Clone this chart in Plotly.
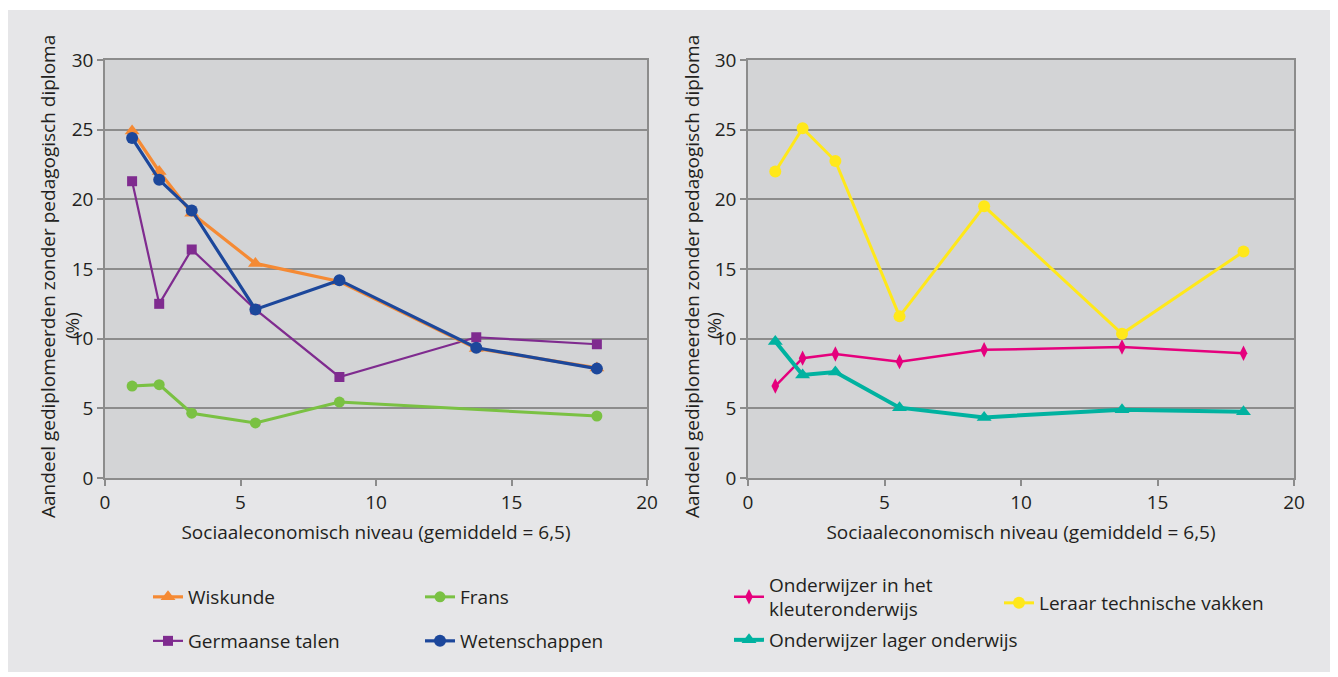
import plotly.graph_objects as go
from plotly.subplots import make_subplots

# Sociaaleconomisch niveau (x) - shared by all series
SES = [1.0, 2.0, 3.2, 5.55, 8.65, 13.7, 18.15]

# left panel
WISKUNDE = [24.9, 22.0, 19.0, 15.4, 14.1, 9.3, 7.9]
FRANS = [6.6, 6.7, 4.65, 3.95, 5.45, None, 4.45]
GERMAANSE = [21.3, 12.5, 16.4, 12.1, 7.25, 10.1, 9.6]
WETENSCHAPPEN = [24.4, 21.4, 19.2, 12.1, 14.2, 9.35, 7.85]

# right panel
KLEUTER = [6.6, 8.6, 8.9, 8.35, 9.2, 9.4, 8.95]
LAGER = [9.8, 7.4, 7.6, 5.05, 4.35, 4.9, 4.75]
TECHNISCH = [22.0, 25.1, 22.75, 11.6, 19.5, 10.35, 16.25]

X_TICKS = [0, 5, 10, 15, 20]
Y_TICKS = [0, 5, 10, 15, 20, 25, 30]

FONT = "Open Sans"
FS = 19
TXT = "#231f20"
PANEL_BG = "#e6e6e8"
PLOT_BG = "#d3d4d6"
GRID = "#8c8c8c"

# the page body adds an 8px margin; work in screenshot pixels and shift
OFF = 8
W, H = 1338 - OFF, 672 - OFF
L, R, T, B = 105 - OFF, 1338 - 1294, 60 - OFF, 672 - 478
PW = W - L - R
PH = H - T - B


def px_x(p):
    return (p - OFF - L) / PW


def px_y(p):
    return (H - B - (p - OFF)) / PH


fig = make_subplots(rows=1, cols=2)

# -------------------------------
# left panel traces (draw order: Frans, Germaanse, Wiskunde, Wetenschappen)
# -------------------------------
fig.add_trace(go.Scatter(
    x=SES, y=FRANS, name="Frans", connectgaps=True, legend="legend2",
    line=dict(color="#7ac143", width=3),
    marker=dict(symbol="circle", size=11, color="#7ac143"),
), row=1, col=1)
fig.add_trace(go.Scatter(
    x=SES, y=GERMAANSE, name="Germaanse talen", legend="legend3",
    line=dict(color="#7f2b8f", width=2.2),
    marker=dict(symbol="square", size=10, color="#7f2b8f"),
), row=1, col=1)
fig.add_trace(go.Scatter(
    x=SES, y=WISKUNDE, name="Wiskunde", legend="legend",
    line=dict(color="#f58a34", width=3.2),
    marker=dict(symbol="triangle-up", size=13, color="#f58a34"),
), row=1, col=1)
fig.add_trace(go.Scatter(
    x=SES, y=WETENSCHAPPEN, name="Wetenschappen", legend="legend4",
    line=dict(color="#1c479b", width=3.2),
    marker=dict(symbol="circle", size=12, color="#1c479b"),
), row=1, col=1)

# -------------------------------
# right panel traces
# -------------------------------
fig.add_trace(go.Scatter(
    x=SES, y=KLEUTER, name="Onderwijzer in het<br>kleuteronderwijs", legend="legend5",
    line=dict(color="#e5007d", width=2.5),
    marker=dict(symbol="diamond-tall", size=11, color="#e5007d"),
), row=1, col=2)
fig.add_trace(go.Scatter(
    x=SES, y=LAGER, name="Onderwijzer lager onderwijs", legend="legend6",
    line=dict(color="#00b2a0", width=4),
    marker=dict(symbol="triangle-up", size=13, color="#00b2a0"),
), row=1, col=2)
fig.add_trace(go.Scatter(
    x=SES, y=TECHNISCH, name="Leraar technische vakken", legend="legend7",
    line=dict(color="#ffe81a", width=3),
    marker=dict(symbol="circle", size=12, color="#ffe81a"),
), row=1, col=2)

axis_common = dict(
    showline=True, linecolor="#8c8c8c", linewidth=1.5, mirror=True,
    ticks="outside", ticklen=6, tickcolor="#8c8c8c", tickwidth=1.5,
    tickfont=dict(family=FONT, size=FS, color=TXT), zeroline=False,
)
fig.update_xaxes(range=[0, 20], tickvals=X_TICKS, showgrid=False,
                 title=dict(text="Sociaaleconomisch niveau (gemiddeld = 6,5)",
                            font=dict(family=FONT, size=FS, color=TXT), standoff=12),
                 **axis_common)
fig.update_yaxes(range=[0, 30], tickvals=Y_TICKS, showgrid=True,
                 gridcolor=GRID, gridwidth=2, **axis_common)

fig.update_xaxes(domain=[0, px_x(647)], row=1, col=1)
fig.update_xaxes(domain=[px_x(748), 1], row=1, col=2)

# y-axis titles, as two separate pieces (they overlap the tick labels
# in the original, with the "(%)" sitting off-centre)
for x1, x2 in ((48, 72), (692, 714)):
    fig.add_annotation(
        x=px_x(x1), y=px_y(277), xref="paper", yref="paper",
        text="Aandeel gediplomeerden zonder pedagogisch diploma",
        textangle=-90, showarrow=False,
        font=dict(family=FONT, size=FS, color=TXT),
        xanchor="center", yanchor="middle",
    )
    fig.add_annotation(
        x=px_x(x2), y=px_y(326), xref="paper", yref="paper",
        text="(%)", textangle=-90, showarrow=False,
        font=dict(family=FONT, size=FS, color=TXT),
        xanchor="center", yanchor="middle",
    )

# top strip of the white frame (body margin covers the rest)
fig.add_shape(type="rect", xref="paper", yref="paper", layer="below",
              x0=px_x(0), x1=px_x(1338), y0=px_y(8), y1=px_y(10),
              fillcolor="white", line=dict(width=0))

legend_font = dict(family=FONT, size=FS, color=TXT)
legend_pos = {
    "legend": (148, 597),
    "legend2": (420, 597),
    "legend3": (148, 641),
    "legend4": (420, 641),
    "legend5": (729, 597),
    "legend6": (729, 640),
    "legend7": (999, 603),
}
legends = {}
for key, (lx, ly) in legend_pos.items():
    legends[key] = dict(
        x=px_x(lx), y=px_y(ly), xanchor="left", yanchor="middle",
        bgcolor="rgba(0,0,0,0)", font=legend_font, itemwidth=30,
    )

fig.update_layout(
    width=W, height=H,
    margin=dict(l=L, r=R, t=T, b=B),
    paper_bgcolor=PANEL_BG,
    plot_bgcolor=PLOT_BG,
    showlegend=True,
    **legends,
)

fig.write_html("out.html")
